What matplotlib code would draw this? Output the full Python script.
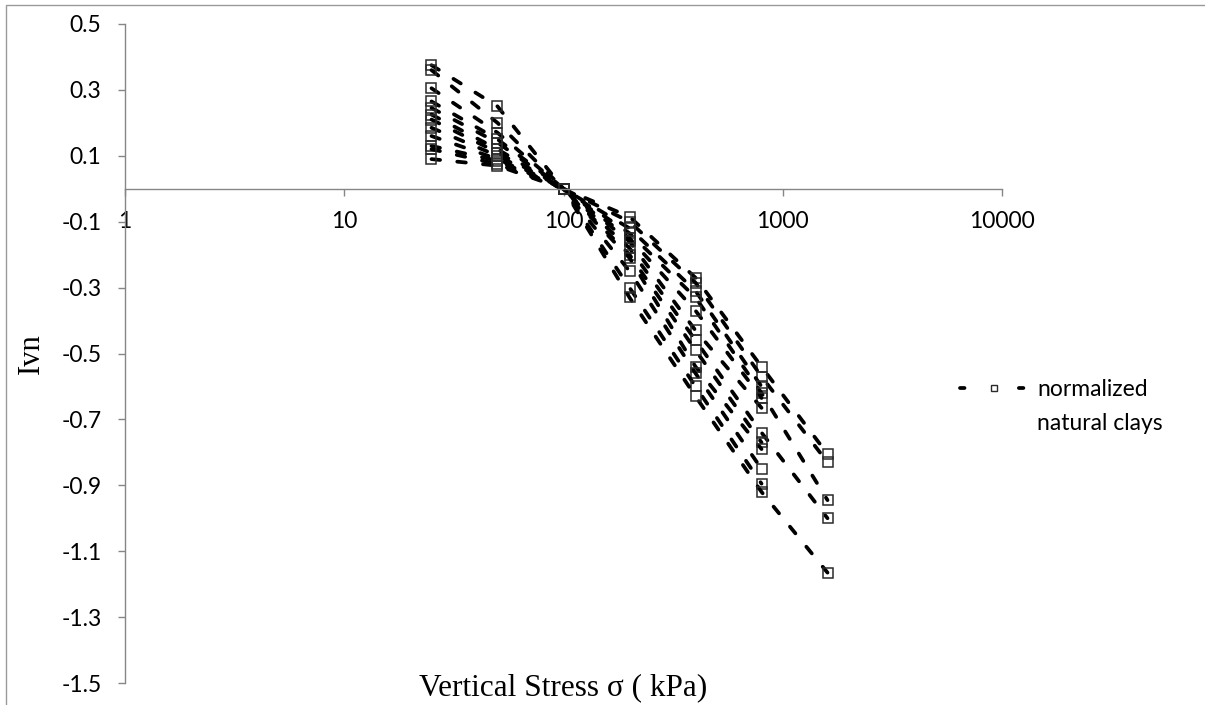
import numpy as np
import matplotlib
matplotlib.use("Agg")
import matplotlib.pyplot as plt
from matplotlib.lines import Line2D
from matplotlib.patches import Rectangle
from matplotlib.ticker import FixedLocator, FixedFormatter, NullLocator

plt.rcParams['axes.unicode_minus'] = False

nan = np.nan
sigma = [25, 50, 100, 200, 400, 800, 1600]
s01 = [0.375, 0.25, 0.0, -0.085, -0.27, -0.54, -0.805]
s02 = [0.36, 0.20, 0.0, -0.10, -0.285, -0.57, -0.83]
s03 = [0.305, 0.17, 0.0, -0.12, -0.31, -0.60, nan]
s04 = [0.265, 0.15, 0.0, -0.135, -0.33, -0.62, -0.945]
s05 = [0.245, 0.14, 0.0, -0.15, -0.37, -0.635, nan]
s06 = [0.225, 0.12, 0.0, -0.16, -0.43, -0.665, nan]
s07 = [0.21, 0.11, 0.0, -0.18, -0.46, -0.74, -1.0]
s08 = [0.185, 0.10, 0.0, -0.20, -0.49, -0.77, nan]
s09 = [0.16, 0.09, 0.0, -0.21, -0.54, -0.79, nan]
s10 = [0.13, 0.085, 0.0, -0.25, -0.56, -0.85, nan]
s11 = [0.12, 0.075, 0.0, -0.30, -0.60, -0.895, nan]
s12 = [0.09, 0.07, 0.0, -0.33, -0.63, -0.92, -1.165]
series = [s01, s02, s03, s04, s05, s06, s07, s08, s09, s10, s11, s12]

x_ticks = [1, 10, 100, 1000, 10000]
x_labels = ["1", "10", "100", "1000", "10000"]
y_ticks = [-1.5, -1.3, -1.1, -0.9, -0.7, -0.5, -0.3, -0.1, 0.1, 0.3, 0.5]
y_labels = ["-1.5", "-1.3", "-1.1", "-0.9", "-0.7", "-0.5", "-0.3", "-0.1", "0.1", "0.3", "0.5"]

legend_lines = ["normalized", "natural clays"]
x_title = "Vertical Stress \u03c3 ( kPa)"
y_title = "Ivn"

W, H = 1205, 705
fig = plt.figure(figsize=(W / 100, H / 100), dpi=100)
fig.patch.set_facecolor("white")

# outer chart border (top and left visible)
fig.add_artist(Rectangle((6 / W, -0.1), 1.2, 1 - 5 / H + 0.1, transform=fig.transFigure,
                         fill=False, edgecolor="#9a9a9a", linewidth=1.0))

left, right, top, bottom = 125, 1002, 24, 683
ax = fig.add_axes([left / W, 1 - bottom / H, (right - left) / W, (bottom - top) / H])
ax.set_xscale("log")
ax.set_xlim(1, 10000)
ax.set_ylim(-1.5, 0.5)
ax.set_facecolor("none")

axis_gray = "#868686"
for sp in ["top", "right"]:
    ax.spines[sp].set_visible(False)
ax.spines["left"].set_color(axis_gray)
ax.spines["bottom"].set_color(axis_gray)
ax.spines["left"].set_linewidth(1.0)
ax.spines["bottom"].set_linewidth(1.0)
ax.spines["bottom"].set_position(("data", 0))

tick_font = ["Lato", "DejaVu Sans"]
ax.xaxis.set_major_locator(FixedLocator(x_ticks))
ax.xaxis.set_major_formatter(FixedFormatter(x_labels))
ax.xaxis.set_minor_locator(NullLocator())
ax.yaxis.set_major_locator(FixedLocator(y_ticks))
ax.yaxis.set_major_formatter(FixedFormatter(y_labels))
ax.tick_params(axis="both", which="major", color=axis_gray, length=5, width=1.0,
               labelsize=16.5, labelcolor="black", direction="out")
ax.tick_params(axis="x", pad=11)
ax.tick_params(axis="y", pad=12)
for lab in ax.get_xticklabels() + ax.get_yticklabels():
    lab.set_family(tick_font)

for s in series:
    ax.plot(sigma, s, color="black", linewidth=2.7, linestyle=(0, (2.3, 4.6)),
            dash_capstyle="round", marker="s", markersize=7.8, markerfacecolor="none",
            markeredgecolor="#2a2a2a", markeredgewidth=1.1, clip_on=False)

serif = ["Liberation Serif", "DejaVu Serif"]
ax.set_xlabel(x_title, family=serif, fontsize=22.5)
ax.xaxis.set_label_coords(0.5, (bottom - 688) / (bottom - top), transform=ax.transAxes)
ax.xaxis.label.set_verticalalignment("center")
ax.set_ylabel(y_title, family=serif, fontsize=22)
ax.yaxis.label.set_verticalalignment("center")
ax.yaxis.set_label_coords((31 - left) / (right - left), (bottom - 354) / (bottom - top))

handle = Line2D([], [], color="black", linewidth=2.7, linestyle=(0, (1.2, 14.5)),
                dash_capstyle="round", marker="s", markersize=5, markerfacecolor="none",
                markeredgecolor="#2a2a2a", markeredgewidth=1.0)
blank = Line2D([], [], linestyle="none", marker=None)
leg = ax.legend([handle, blank], legend_lines, loc="upper left",
                bbox_to_anchor=(949 / W, 1 - 368 / H), bbox_transform=fig.transFigure,
                frameon=False, handlelength=2.95, handletextpad=0.4, labelspacing=0.55,
                borderpad=0.0, prop={"family": tick_font, "size": 16.5})

fig.savefig("out.png", dpi=100, facecolor="white")
